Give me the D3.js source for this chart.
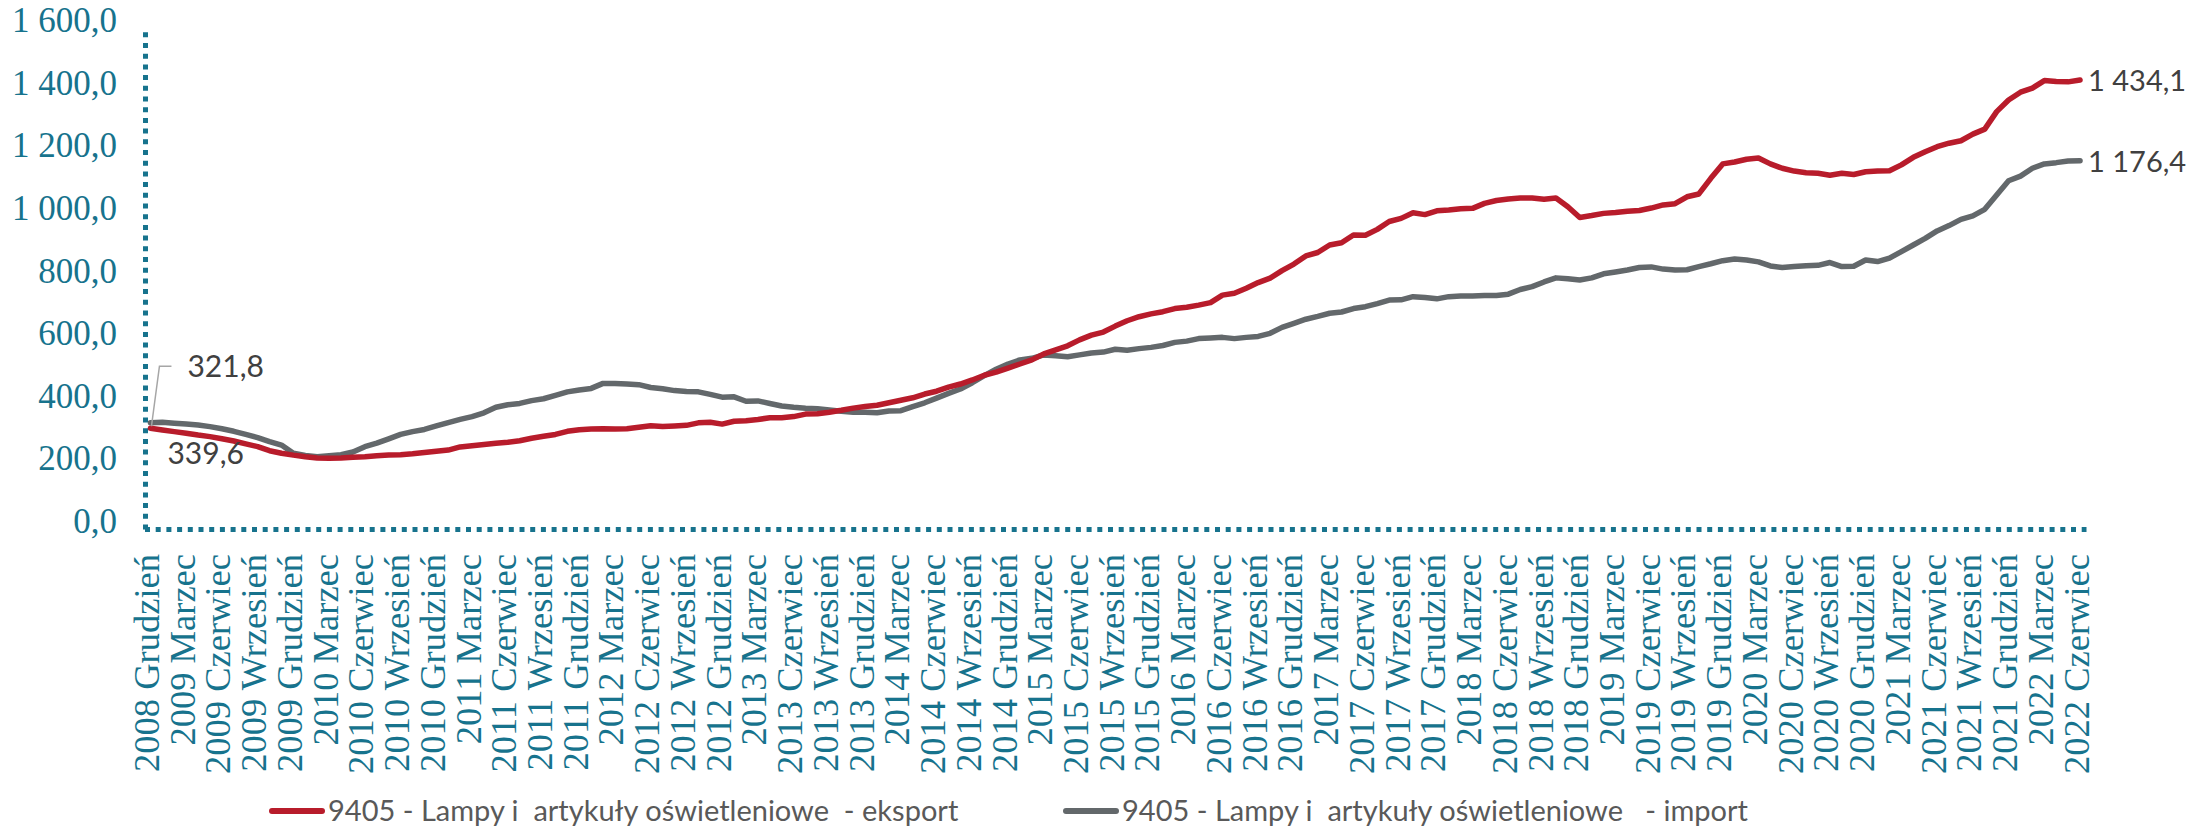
<!DOCTYPE html>
<html><head><meta charset="utf-8">
<script src="https://cdn.jsdelivr.net/npm/d3@7"></script>
<style>
html,body{margin:0;padding:0;background:#fff;}
svg{display:block;}
</style></head>
<body>
<svg id="chart" width="2212" height="828"></svg>
<script>
// ---- DATA ----
const startYear = 2008, startMonth = 11; // Dec 2008 (0-based month)
const monthNames = ["Styczeń","Luty","Marzec","Kwiecień","Maj","Czerwiec","Lipiec","Sierpień","Wrzesień","Październik","Listopad","Grudzień"];
const nMonths = 163;
const categories = d3.range(nMonths).map(i => {
  const m = startMonth + i;
  return (startYear + Math.floor(m / 12)) + " " + monthNames[m % 12];
});
const tickLabels = [
"2008 Grudzień","2009 Marzec","2009 Czerwiec","2009 Wrzesień","2009 Grudzień",
"2010 Marzec","2010 Czerwiec","2010 Wrzesień","2010 Grudzień",
"2011 Marzec","2011 Czerwiec","2011 Wrzesień","2011 Grudzień",
"2012 Marzec","2012 Czerwiec","2012 Wrzesień","2012 Grudzień",
"2013 Marzec","2013 Czerwiec","2013 Wrzesień","2013 Grudzień",
"2014 Marzec","2014 Czerwiec","2014 Wrzesień","2014 Grudzień",
"2015 Marzec","2015 Czerwiec","2015 Wrzesień","2015 Grudzień",
"2016 Marzec","2016 Czerwiec","2016 Wrzesień","2016 Grudzień",
"2017 Marzec","2017 Czerwiec","2017 Wrzesień","2017 Grudzień",
"2018 Marzec","2018 Czerwiec","2018 Wrzesień","2018 Grudzień",
"2019 Marzec","2019 Czerwiec","2019 Wrzesień","2019 Grudzień",
"2020 Marzec","2020 Czerwiec","2020 Wrzesień","2020 Grudzień",
"2021 Marzec","2021 Czerwiec","2021 Wrzesień","2021 Grudzień",
"2022 Marzec","2022 Czerwiec"];
const yTicks = [0,200,400,600,800,1000,1200,1400,1600];

const eksport = [
321.8,316,311,306,300,295,288,281,272,263,250,242,236,231,227,226,227,229,231,234,
236,237,240,244,248,252,262,266,270,274,277,282,290,296,302,312,317,319,320,319,
320,325,330,327,329,331,339,341,335,344,346,350,355,355,359,367,368,373,379,386,
391,395,403,411,419,431,440,453,463,476,491,501,514,527,540,559,572,585,604,619,
629,648,665,678,687,694,704,708,715,723,747,753,769,787,801,825,846,872,883,907,
914,939,938,957,982,992,1010,1004,1016,1019,1023,1024,1040,1049,1054,1057,1057,1053,1057,1029,
995,1001,1008,1011,1015,1017,1025,1035,1039,1061,1070,1120,1166,1172,1181,1185,1166,1152,1143,1138,
1136,1130,1136,1132,1141,1143,1144,1163,1187,1205,1221,1232,1240,1261,1277,1333,1370,1395,1408,1432,
1429,1428,1434.1];

const importVals = [
339.6,341,338,335,332,327,320,312,302,292,279,268,242,235,231,234,237,246,263,274,
288,302,311,318,329,340,350,359,371,389,397,401,410,416,427,438,444,449,465,465,
463,461,452,448,442,439,438,430,421,422,408,409,401,393,389,386,384,380,376,373,
373,371,377,378,391,403,418,433,447,467,490,510,527,540,545,556,553,550,556,562,
565,574,571,576,580,586,596,600,608,610,612,608,612,615,625,644,657,670,679,689,
693,704,710,720,731,732,742,739,735,742,744,744,746,746,750,765,774,789,802,799,
795,802,815,821,827,835,837,830,827,828,838,847,857,862,859,853,840,835,838,841,
842,851,838,839,859,854,865,886,907,928,952,969,989,1000,1021,1067,1112,1127,1152,1166,
1170,1175,1176.4];

const seriesNames = ["9405 - Lampy i  artykuły oświetleniowe  - eksport",
                     "9405 - Lampy i  artykuły oświetleniowe   - import"];
const seriesColors = ["#B81C2B", "#63686B"];

// ---- CHART ----
const svg = d3.select("#chart");
const teal = "#17738D";
const fmt = d3.formatLocale({decimal: ",", thousands: " ", grouping: [3]}).format(",.1f");

const x = d3.scalePoint().domain(categories).range([144.5, 2086]).padding(0.5);
const y = d3.scaleLinear().domain([0, 1600]).range([529, 28]);

// Y axis
const yAxis = svg.append("g").attr("transform", "translate(145,0)")
  .call(d3.axisLeft(y).tickValues(yTicks).tickFormat(fmt).tickSize(0).tickPadding(28));
yAxis.select(".domain").attr("stroke", teal).attr("stroke-width", 5).attr("stroke-dasharray", "5 5.7");
yAxis.selectAll("text").attr("fill", teal)
  .style("font-family", "'Liberation Serif', serif").style("font-size", "35px")
  .attr("dy", "0.1em");

// X axis
const tickCats = categories.filter((d, i) => i % 3 === 0);
const xAxis = svg.append("g").attr("transform", "translate(0,529)")
  .call(d3.axisBottom(x).tickValues(tickCats).tickFormat((d, i) => tickLabels[i]).tickSize(0).tickSizeOuter(0));
xAxis.select(".domain").attr("stroke", teal).attr("stroke-width", 5).attr("stroke-dasharray", "5 5.7");
xAxis.selectAll("text")
  .attr("fill", teal)
  .style("font-family", "'Liberation Serif', serif").style("font-size", "36.5px")
  .attr("text-anchor", "end")
  .attr("transform", "rotate(-90)")
  .attr("x", -25).attr("y", 8).attr("dy", 0);

// Lines
const line = d3.line().x((d, i) => x(categories[i])).y(d => y(d));
[importVals, eksport].forEach((vals, k) => {
  const idx = k === 0 ? 1 : 0;
  svg.append("path").datum(vals)
    .attr("fill", "none").attr("stroke", seriesColors[idx])
    .attr("stroke-width", 5.5).attr("stroke-linejoin", "round").attr("stroke-linecap", "round")
    .attr("d", line);
});

// Data labels
const lblFont = "Lato, 'Open Sans', sans-serif";
const lblColor = "#404040";
const first = categories[0], last = categories[nMonths - 1];
svg.append("path")
  .attr("d", `M${x(first) + 1},${y(eksport[0]) - 2}L${x(first) + 9},${y(eksport[0]) - 62}H${x(first) + 21}`)
  .attr("fill", "none").attr("stroke", "#A6A6A6").attr("stroke-width", 1.5);
svg.append("text").attr("x", x(first) + 37).attr("y", y(eksport[0]) - 51)
  .text(fmt(eksport[0]))
  .style("font-family", lblFont).style("font-size", "30px").attr("fill", lblColor);
svg.append("text").attr("x", x(first) + 17).attr("y", y(importVals[0]) + 41)
  .text(fmt(importVals[0]))
  .style("font-family", lblFont).style("font-size", "30px").attr("fill", lblColor);
svg.append("text").attr("x", x(last) + 8).attr("y", y(eksport[nMonths - 1]) + 11)
  .text(fmt(eksport[nMonths - 1]))
  .style("font-family", lblFont).style("font-size", "29px").attr("fill", lblColor);
svg.append("text").attr("x", x(last) + 8).attr("y", y(importVals[nMonths - 1]) + 11)
  .text(fmt(importVals[nMonths - 1]))
  .style("font-family", lblFont).style("font-size", "29px").attr("fill", lblColor);

// Legend
const legendX = [270, 1064];
seriesNames.forEach((name, k) => {
  const g = svg.append("g").attr("transform", `translate(${legendX[k]},811)`);
  g.append("line").attr("x1", 2).attr("x2", 52).attr("y1", 0).attr("y2", 0)
    .attr("stroke", seriesColors[k]).attr("stroke-width", 6).attr("stroke-linecap", "round");
  g.append("text").attr("x", 58).attr("y", 10).text(name)
    .style("white-space", "pre")
    .style("font-family", lblFont).style("font-size", "29px").attr("fill", "#595959");
});
</script>
</body></html>
